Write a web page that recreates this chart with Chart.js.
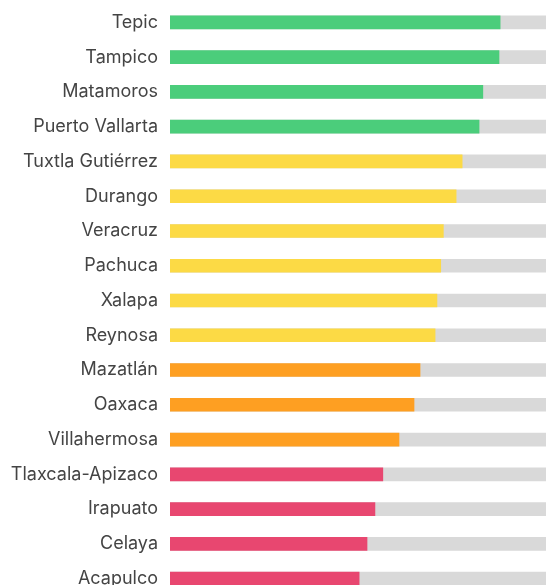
<!DOCTYPE html>
<html lang="es">
  <head>
    <meta charset="UTF-8" />
    <title>Ciudades</title>
    <script src="https://cdn.jsdelivr.net/npm/chart.js"></script>
    <style>
      html, body { margin: 0; padding: 0; background: #fff; overflow: hidden; }
      #wrap { width: 546px; height: 596px; position: relative; }
    </style>
  </head>
  <body>
    <div id="wrap"><canvas id="myChart"></canvas></div>
    <script>
      // values, scale 0-100
      const cities = [
        "Tepic", "Tampico", "Matamoros", "Puerto Vallarta", "Tuxtla Gutiérrez",
        "Durango", "Veracruz", "Pachuca", "Xalapa", "Reynosa", "Mazatlán",
        "Oaxaca", "Villahermosa", "Tlaxcala-Apizaco", "Irapuato", "Celaya", "Acapulco"
      ];
      const scores = [87.8, 87.5, 83.2, 82.2, 77.7, 76.1, 72.7, 72.0, 71.0, 70.5,
        66.5, 64.9, 60.9, 56.6, 54.5, 52.4, 50.3];
      const tiers = [0, 0, 0, 0, 1, 1, 1, 1, 1, 1, 2, 2, 2, 3, 3, 3, 3];
      const tierColors = ["#4bcd7b", "#fcda45", "#fe9f22", "#e84770"];
      const maxScore = 100;

      const ctx = document.getElementById("myChart").getContext("2d");
      new Chart(ctx, {
        type: "bar",
        data: {
          labels: cities,
          datasets: [
            {
              data: scores,
              backgroundColor: tiers.map((t) => tierColors[t]),
              barThickness: 13,
              grouped: false,
              order: 0,
            },
            {
              data: cities.map(() => maxScore),
              backgroundColor: "#d9d9d9",
              barThickness: 13,
              grouped: false,
              order: 1,
            },
          ],
        },
        options: {
          indexAxis: "y",
          responsive: true,
          maintainAspectRatio: false,
          animation: false,
          layout: { padding: { top: 5, left: 0, right: 0, bottom: 0 } },
          plugins: { legend: { display: false }, tooltip: { enabled: false } },
          scales: {
            x: { display: false, min: 0, max: maxScore },
            y: {
              grid: { display: false, drawTicks: false },
              border: { display: false },
              ticks: {
                padding: 12,
                color: "#444",
                font: { family: "Inter", size: 18 },
              },
              afterFit: (scale) => {
                scale.width = 170;
                scale.paddingTop = 0;
                scale.paddingBottom = 0;
              },
            },
          },
        },
      });
    </script>
  </body>
</html>
